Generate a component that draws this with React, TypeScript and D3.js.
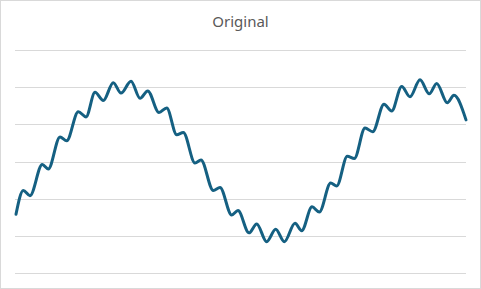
import React from "react";
import * as d3 from "d3";

const title = "Original";
const xValues = [0, 1.62, 3.11, 5.84, 7.18, 9.78, 11.27, 13.84, 15.56, 17.56, 19.4, 21.62, 23.33, 25.56, 27.56, 29.27, 31.78, 33.49, 35.71, 37.18, 39.78, 41.11, 43.84, 45.33, 47.93, 49.33, 51.78, 53.49, 55.71, 57.71, 59.62, 62.0, 63.49, 65.78, 67.4, 69.93, 71.27, 73.62, 75.18, 77.56, 79.27, 81.78, 83.49, 85.71, 87.56, 89.78, 91.84, 93.49, 95.84, 97.33, 100];
const yValues = [-0.71, -0.39, -0.46, -0.04, -0.1, 0.33, 0.28, 0.67, 0.6, 0.93, 0.82, 1.06, 0.92, 1.08, 0.85, 0.95, 0.66, 0.72, 0.36, 0.39, -0.02, 0.02, -0.39, -0.35, -0.72, -0.66, -0.96, -0.84, -1.08, -0.91, -1.08, -0.83, -0.93, -0.61, -0.68, -0.29, -0.33, 0.07, 0.04, 0.45, 0.4, 0.77, 0.68, 1.01, 0.87, 1.1, 0.91, 1.05, 0.79, 0.89, 0.56];
const yTicks = [-1.5, -1, -0.5, 0, 0.5, 1, 1.5];

const W = 481;
const H = 289;

export default function App() {
  const x = d3.scaleLinear().domain([0, 100]).range([16, 466]);
  const y = d3.scaleLinear().domain([-1.5, 1.5]).range([273, 50]);
  const pts: [number, number][] = xValues.map((v, i) => [v, yValues[i]]);
  const line = d3
    .line<[number, number]>()
    .x((d) => x(d[0]))
    .y((d) => y(d[1]))
    .curve(d3.curveMonotoneX);

  return (
    <svg
      width={W}
      height={H}
      style={{ position: "absolute", left: 0, top: 0, background: "#fff" }}
    >
      <rect x={0.5} y={0.5} width={W - 1} height={H - 1} fill="#fff" stroke="#d9d9d9" />
      <text
        x={240.5}
        y={26.5}
        textAnchor="middle"
        fontFamily="'Noto Sans', sans-serif"
        fontSize={15}
        fill="#595959"
      >
        {title}
      </text>
      {yTicks.map((t) => (
        <line
          key={t}
          x1={15}
          x2={466}
          y1={Math.round(y(t)) + 0.5}
          y2={Math.round(y(t)) + 0.5}
          stroke="#d9d9d9"
          strokeWidth={1}
        />
      ))}
      <path
        d={line(pts) || ""}
        fill="none"
        stroke="#156082"
        strokeWidth={3}
        strokeLinecap="round"
        strokeLinejoin="round"
      />
    </svg>
  );
}
